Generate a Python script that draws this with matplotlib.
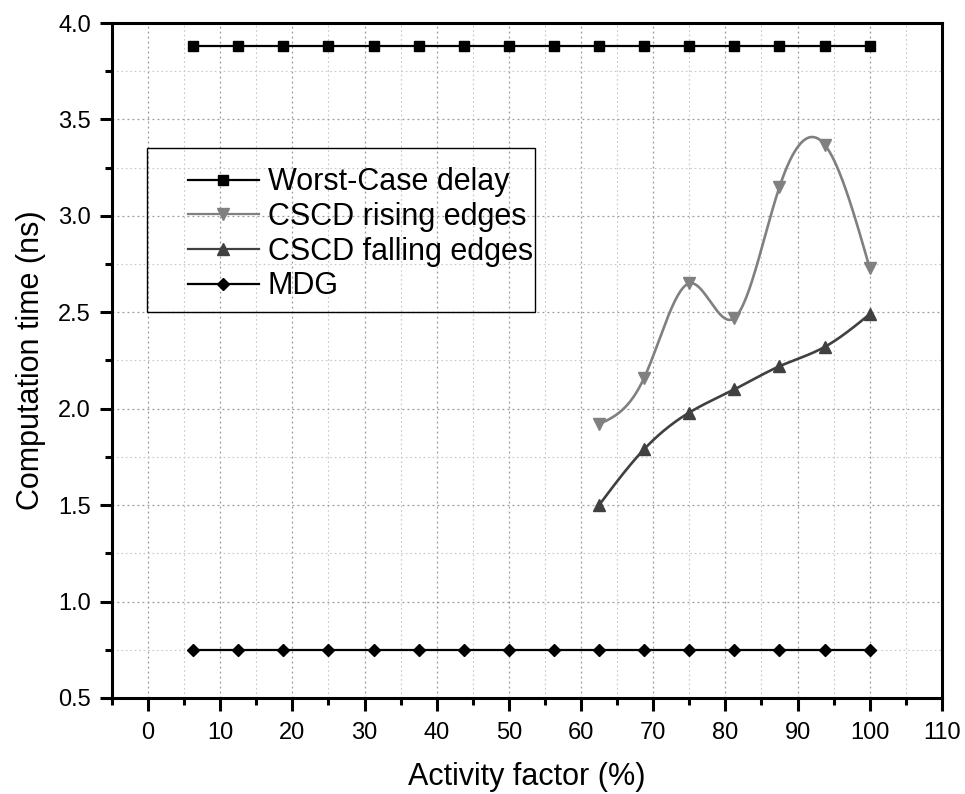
import numpy as np
import matplotlib
matplotlib.use('Agg')
import matplotlib.pyplot as plt
from matplotlib.ticker import MultipleLocator, FormatStrFormatter
from matplotlib.patches import Rectangle

plt.rcParams['font.family'] = ['Liberation Sans', 'DejaVu Sans']

# 数据
x_all = [6.25, 12.5, 18.75, 25, 31.25, 37.5, 43.75, 50, 56.25, 62.5,
         68.75, 75, 81.25, 87.5, 93.75, 100]
worst_case = [3.88] * 16
mdg = [0.75] * 16
x_cscd = [62.5, 68.75, 75, 81.25, 87.5, 93.75, 100]
cscd_rising = [1.92, 2.16, 2.65, 2.47, 3.15, 3.37, 2.73]
cscd_falling = [1.50, 1.79, 1.98, 2.10, 2.22, 2.32, 2.49]


def natural_spline(x, y, n=500):
    # 自然三次样条, 只用于画平滑线
    x = np.asarray(x, float)
    y = np.asarray(y, float)
    k = len(x)
    h = np.diff(x)
    A = np.zeros((k, k))
    b = np.zeros(k)
    A[0, 0] = A[-1, -1] = 1
    for i in range(1, k - 1):
        A[i, i - 1] = h[i - 1]
        A[i, i] = 2 * (h[i - 1] + h[i])
        A[i, i + 1] = h[i]
        b[i] = 3 * ((y[i + 1] - y[i]) / h[i] - (y[i] - y[i - 1]) / h[i - 1])
    c = np.linalg.solve(A, b)
    xs = np.linspace(x[0], x[-1], n)
    idx = np.clip(np.searchsorted(x, xs) - 1, 0, k - 2)
    dx = xs - x[idx]
    bb = (y[idx + 1] - y[idx]) / h[idx] - h[idx] * (2 * c[idx] + c[idx + 1]) / 3
    dd = (c[idx + 1] - c[idx]) / (3 * h[idx])
    ys = y[idx] + bb * dx + c[idx] * dx ** 2 + dd * dx ** 3
    return xs, ys


fig = plt.figure(figsize=(9.65, 7.94), dpi=100)
ax = fig.add_axes([0.116, 0.121, 0.860, 0.850])
ax.set_xlim(-5, 110)
ax.set_ylim(0.5, 4.0)

gray_r = '#808080'
gray_f = '#404040'
lw = 1.6

ax.plot(x_all, worst_case, color='black', lw=lw, marker='s', ms=6.5)
xs, ys = natural_spline(x_cscd, cscd_rising)
ax.plot(xs, ys, color=gray_r, lw=1.9)
ax.plot(x_cscd, cscd_rising, ls='none', color=gray_r, marker='v', ms=9)
xs, ys = natural_spline(x_cscd, cscd_falling)
ax.plot(xs, ys, color=gray_f, lw=1.9)
ax.plot(x_cscd, cscd_falling, ls='none', color=gray_f, marker='^', ms=9)
ax.plot(x_all, mdg, color='black', lw=lw, marker='D', ms=6)

# 图例
h1, = ax.plot([], [], color='black', lw=lw, marker='s', ms=6.5)
h2, = ax.plot([], [], color=gray_r, lw=lw, marker='v', ms=9)
h3, = ax.plot([], [], color=gray_f, lw=lw, marker='^', ms=9)
h4, = ax.plot([], [], color='black', lw=lw, marker='D', ms=6)
ax.legend([h1, h2, h3, h4],
          ['Worst-Case delay', 'CSCD rising edges', 'CSCD falling edges', 'MDG'],
          loc='upper left', bbox_to_anchor=(0.092, 0.786), borderaxespad=0,
          borderpad=0, fontsize=22, frameon=False, handlelength=2.3,
          handletextpad=0.3, labelspacing=0.15)
ax.add_patch(Rectangle((0.0422, 0.572), 0.4675, 0.243, transform=ax.transAxes,
                       fill=False, edgecolor='black', lw=1.0, zorder=5))

ax.xaxis.set_major_locator(MultipleLocator(10))
ax.xaxis.set_minor_locator(MultipleLocator(5))
ax.yaxis.set_major_locator(MultipleLocator(0.5))
ax.yaxis.set_minor_locator(MultipleLocator(0.25))
ax.yaxis.set_major_formatter(FormatStrFormatter('%.1f'))

ax.grid(which='major', color='#999999', ls=(0, (1.5, 2.5)), lw=0.9)
ax.grid(which='minor', color='#c8c8c8', ls=(0, (1.5, 2.5)), lw=0.8)
ax.set_axisbelow(True)

ax.tick_params(which='major', direction='out', length=9, width=2.2, labelsize=17)
ax.tick_params(which='minor', direction='out', length=5, width=2.2)
ax.tick_params(axis='x', which='major', pad=8)
ax.tick_params(axis='y', which='major', pad=6)
for s in ax.spines.values():
    s.set_linewidth(2.2)

ax.set_xlabel('Activity factor (%)', fontsize=22, labelpad=13)
ax.set_ylabel('Computation time (ns)', fontsize=22, labelpad=9)

fig.savefig('out.png', dpi=100)
